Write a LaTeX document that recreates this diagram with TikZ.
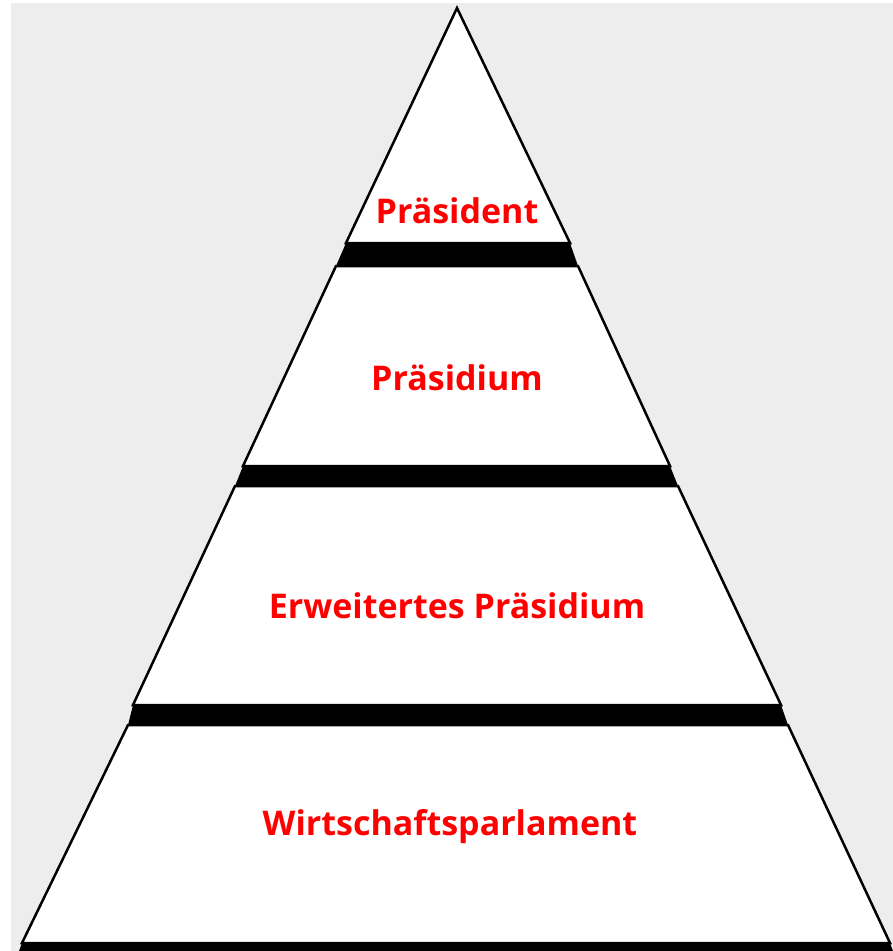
\documentclass[tikz,border=0pt]{standalone}
\usepackage{fontspec}
\setsansfont{Open Sans}
\usepackage{tikz}
\definecolor{bggray}{HTML}{EDEDED}
\tikzstyle{tier} = [fill=white, draw=black, line width=2.5pt]
\tikzstyle{band} = [fill=black]
\tikzstyle{tiername} = [text=red, font=\sffamily\bfseries\fontsize{34}{40}\selectfont, anchor=base, inner sep=0pt]

\begin{document}
\begin{tikzpicture}[x=1pt,y=-1pt]
  \useasboundingbox (0,0) rectangle (893,951);
  \fill[bggray] (11,3) rectangle (893,951);

  % black bands under the tiers
  \fill[band] (346,243) -- (570,243) -- (578,266) -- (336,266) -- cycle;
  \fill[band] (243,466) -- (670,466) -- (678,486) -- (235,486) -- cycle;
  \fill[band] (133,705) -- (781,705) -- (788,725) -- (128,725) -- cycle;
  \fill[band] (22,943) -- (890,943) -- (893,951) -- (19,951) -- cycle;

  % tiers
  \draw[tier] (457,8) -- (570,243) -- (346,243) -- cycle;
  \draw[tier] (336,266) -- (578,266) -- (670,466) -- (243,466) -- cycle;
  \draw[tier] (235,486) -- (678,486) -- (781,705) -- (133,705) -- cycle;
  \draw[tier] (128,725) -- (788,725) -- (890,943) -- (22,943) -- cycle;

  \node (pres) at (457,223) [tiername] {Präsident};
  \node (prsd) at (457,390) [tiername] {Präsidium};
  \node (erwp) at (457,618) [tiername] {Erweitertes Präsidium};
  \node (wparl) at (450,835) [tiername] {Wirtschaftsparlament};
\end{tikzpicture}
\end{document}
